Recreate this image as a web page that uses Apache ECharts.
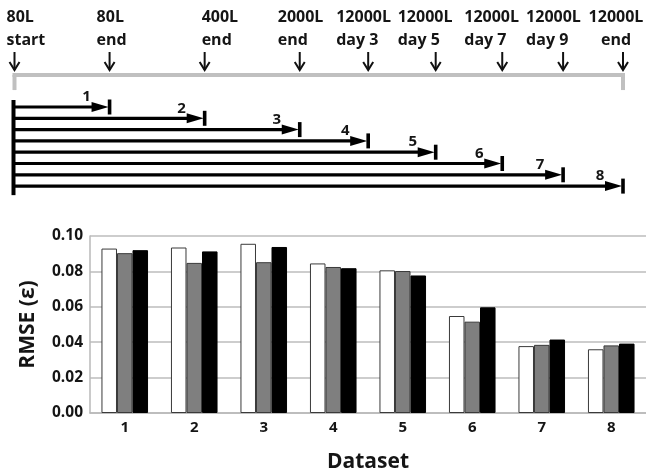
<!DOCTYPE html>
<html>
<head>
<meta charset="utf-8">
<style>
  html, body { margin: 0; padding: 0; background: #fff; }
  #chart { width: 646px; height: 474px; }
</style>
<script src="https://cdn.jsdelivr.net/npm/echarts@6/dist/echarts.min.js"></script>
</head>
<body>
<div id="chart"></div>
<script>
// ---- data ----
const datasets = ['1', '2', '3', '4', '5', '6', '7', '8'];
const rmseWhite = [0.0929, 0.0935, 0.0956, 0.0845, 0.0806, 0.0548, 0.0378, 0.0360];
const rmseGray  = [0.0903, 0.0848, 0.0852, 0.0825, 0.0802, 0.0516, 0.0385, 0.0382];
const rmseBlack = [0.0920, 0.0913, 0.0938, 0.0818, 0.0777, 0.0597, 0.0415, 0.0392];

// production timeline: stage names and their place along the run
const stageLabels = ['80L\nstart', '80L\nend', '400L\nend', '2000L\nend',
  '12000L\nday 3', '12000L\nday 5', '12000L\nday 7', '12000L\nday 9', '12000L\nend'];
const stagePos = [0, 1, 2, 3, 3.72, 4.43, 5.13, 5.77, 6.4];
// each dataset spans from the start up to this stage
const datasetEndStage = [1, 2, 3, 4, 5, 6, 7, 8];

// ---- layout for the timeline sketch ----
const FONT = '"Open Sans", "DejaVu Sans", sans-serif';
const TEXT = '#151515';
const TIMELINE_ROW = -1.83;     // gray bar row
const STUB_ROW = -0.5;          // bottom of gray end stubs
const BAR_TOP_ROW = 0.38, BAR_BOTTOM_ROW = 8.8;
// horizontal nudge of each stage caption relative to its arrow
const captionDx = [-8, -13, -3, -22, -32, -38, -38, -37, -7];

const stageData = stagePos.map((p, i) => [p, TIMELINE_ROW, stageLabels[i], i]);
const arrowData = datasetEndStage.map((s, i) => [stagePos[s], i + 1, datasets[i]]);

function renderStages(params, api) {
  const i = api.value(3);
  const pt = api.coord([api.value(0), api.value(1)]);
  const x = pt[0];
  const children = [];
  const last = i === stageLabels.length - 1;
  children.push({
    type: 'text',
    style: {
      text: stageLabels[i],
      x: x + captionDx[i],
      y: 6,
      align: last ? 'center' : 'left',
      verticalAlign: 'top',
      lineHeight: 23,
      font: 'bold 16px ' + FONT,
      fill: TEXT
    }
  });
  // down arrow
  children.push({
    type: 'line',
    shape: { x1: x, y1: 52, x2: x, y2: 70 },
    style: { stroke: '#111', lineWidth: 2 }
  });
  children.push({
    type: 'polyline',
    shape: { points: [[x - 5, 62], [x, 70], [x + 5, 62]] },
    style: { stroke: '#111', lineWidth: 2, fill: null }
  });
  return { type: 'group', children: children };
}

function renderTimeline(params, api) {
  if (params.dataIndex !== 0) return null;
  const a = api.coord([stagePos[0], TIMELINE_ROW]);
  const b = api.coord([stagePos[stagePos.length - 1], TIMELINE_ROW]);
  const stubY = api.coord([0, STUB_ROW])[1];
  const barTop = api.coord([0, BAR_TOP_ROW])[1];
  const barBottom = api.coord([0, BAR_BOTTOM_ROW])[1];
  const gray = '#c0c0c0';
  return {
    type: 'group',
    children: [
      { type: 'line', shape: { x1: a[0] - 2, y1: a[1], x2: b[0] + 2, y2: b[1] },
        style: { stroke: gray, lineWidth: 4 } },
      { type: 'line', shape: { x1: a[0], y1: a[1], x2: a[0], y2: stubY },
        style: { stroke: gray, lineWidth: 4 } },
      { type: 'line', shape: { x1: b[0], y1: b[1], x2: b[0], y2: stubY },
        style: { stroke: gray, lineWidth: 4 } },
      { type: 'line', shape: { x1: a[0] - 1, y1: barTop, x2: a[0] - 1, y2: barBottom },
        style: { stroke: '#000', lineWidth: 4 } }
    ]
  };
}

function renderArrows(params, api) {
  const start = api.coord([stagePos[0], api.value(1)]);
  const end = api.coord([api.value(0), api.value(1)]);
  const y = end[1];
  const tx = end[0];
  return {
    type: 'group',
    children: [
      { type: 'line', shape: { x1: start[0] - 1, y1: y, x2: tx - 14, y2: y },
        style: { stroke: '#000', lineWidth: 3.2 } },
      { type: 'polygon', shape: { points: [[tx - 18, y - 5], [tx - 1, y], [tx - 18, y + 5]] },
        style: { fill: '#000' } },
      { type: 'line', shape: { x1: tx, y1: y - 7.5, x2: tx, y2: y + 7.5 },
        style: { stroke: '#000', lineWidth: 3.6 } },
      { type: 'text',
        style: { text: api.value(2) + '', x: tx - 23, y: y - 10, align: 'center',
          verticalAlign: 'middle', font: 'bold 15px ' + FONT, fill: TEXT } }
    ]
  };
}

const chart = echarts.init(document.getElementById('chart'), null, { renderer: 'canvas' });

chart.setOption({
  animation: false,
  backgroundColor: '#fff',
  grid: [
    { left: 90, top: 236, width: 558, height: 188, containLabel: false },
    { left: 14.5, top: 5.3, width: 608.5, height: 192.1, containLabel: false }
  ],
  xAxis: [
    {
      type: 'category',
      data: datasets,
      gridIndex: 0,
      axisLine: { show: true, lineStyle: { color: '#b8b8b8', width: 1.5 } },
      axisTick: { show: false },
      axisLabel: { color: TEXT, fontFamily: FONT, fontWeight: 'bold', fontSize: 15, margin: 7 },
      name: 'Dataset',
      nameLocation: 'middle',
      nameGap: 39,
      nameTextStyle: { color: TEXT, fontFamily: FONT, fontWeight: 'bold', fontSize: 21 }
    },
    { type: 'value', gridIndex: 1, min: 0, max: 6.4, show: false }
  ],
  yAxis: [
    {
      type: 'value',
      gridIndex: 0,
      min: 0,
      max: 0.1,
      interval: 0.02,
      axisLine: { show: true, lineStyle: { color: '#b8b8b8', width: 1.5 } },
      axisTick: { show: false },
      splitLine: { show: true, lineStyle: { color: '#bdbdbd', width: 1.6 } },
      axisLabel: {
        color: TEXT, fontFamily: FONT, fontWeight: 'bold', fontSize: 15.5, margin: 7,
        formatter: v => v.toFixed(2)
      },
      name: 'RMSE (ε)',
      nameLocation: 'middle',
      nameRotate: 90,
      nameGap: 51,
      nameTextStyle: { color: TEXT, fontFamily: FONT, fontWeight: 'bold', fontSize: 21 }
    },
    { type: 'value', gridIndex: 1, min: -8, max: 9, inverse: true, show: false }
  ],
  series: [
    {
      type: 'bar', xAxisIndex: 0, yAxisIndex: 0, data: rmseWhite,
      barGap: '0%', barCategoryGap: '33%',
      itemStyle: { color: '#ffffff', borderColor: '#3a3a3a', borderWidth: 1 }
    },
    {
      type: 'bar', xAxisIndex: 0, yAxisIndex: 0, data: rmseGray,
      barGap: '0%', barCategoryGap: '33%',
      itemStyle: { color: '#7f7f7f', borderColor: '#3a3a3a', borderWidth: 1 }
    },
    {
      type: 'bar', xAxisIndex: 0, yAxisIndex: 0, data: rmseBlack,
      barGap: '0%', barCategoryGap: '33%',
      itemStyle: { color: '#000000', borderColor: '#000000', borderWidth: 1 }
    },
    {
      type: 'custom', xAxisIndex: 1, yAxisIndex: 1, data: [[0, 0]],
      renderItem: renderTimeline, silent: true, clip: false
    },
    {
      type: 'custom', xAxisIndex: 1, yAxisIndex: 1, data: stageData,
      renderItem: renderStages, silent: true, clip: false
    },
    {
      type: 'custom', xAxisIndex: 1, yAxisIndex: 1, data: arrowData,
      renderItem: renderArrows, silent: true, clip: false
    }
  ]
});
</script>
</body>
</html>
